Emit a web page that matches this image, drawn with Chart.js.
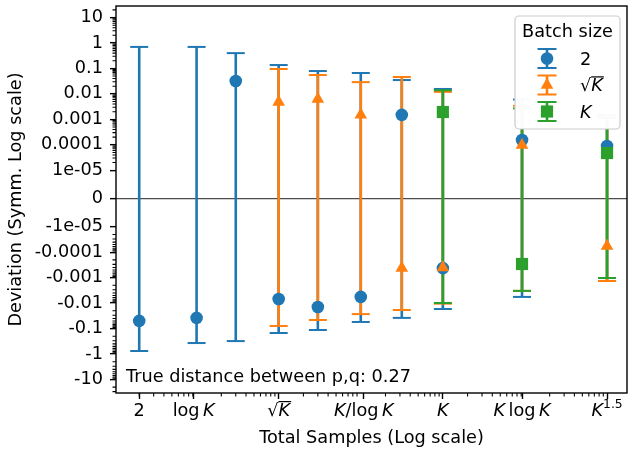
<!DOCTYPE html>
<html>
<head>
<meta charset="utf-8">
<script src="https://cdn.jsdelivr.net/npm/chart.js@4.4.1/dist/chart.umd.min.js"></script>
<style>
    html, body { margin: 0; padding: 0; background: #ffffff; }
    canvas { display: block; }
</style>
</head>
<body>
<canvas id="deviationChart" width="628" height="455"></canvas>
<script>
// Tick positions and labels
const xTickValues = [2, 9.21, 100, 1086, 10000, 92100, 1000000];
const xTickLabels = ['2', 'log K', '√K', 'K/log K', 'K', 'K log K', 'K^1.5'];
const yTickValues = [10, 1, 0.1, 0.01, 0.001, 0.0001, 1e-5, 0, -1e-5, -0.0001, -0.001, -0.01, -0.1, -1, -10];
const yTickLabels = ['10', '1', '0.1', '0.01', '0.001', '0.0001', '1e-05', '0', '-1e-05', '-0.0001', '-0.001', '-0.01', '-0.1', '-1', '-10'];

// Series: batch size 2
const batch2X = [2, 10, 30, 100, 300, 1000, 3160, 10000, 92100, 1000000];
const batch2Mean = [-0.05, -0.038, 0.032, -0.0069, -0.0142, -0.0057, 0.0015, -0.00042, 0.000154, 0.00009];
const batch2Low = [-0.76, -0.37, -0.31, -0.149, -0.114, -0.055, -0.038, -0.017, -0.0057, -0.00135];
const batch2High = [0.7, 0.7, 0.4, 0.136, 0.079, 0.066, 0.035, 0.0156, 0.006, 0.0015];

// Series: batch size sqrt(K)
const batchSqrtX = [100, 300, 1000, 3160, 10000, 92100, 1000000];
const batchSqrtMean = [0.0048, 0.0063, 0.0015, -0.00042, -0.0004, 0.000098, -0.000057];
const batchSqrtLow = [-0.079, -0.046, -0.027, -0.0186, -0.0105, -0.0033, -0.00135];
const batchSqrtHigh = [0.095, 0.055, 0.029, 0.046, 0.012, 0.0034, 0.0013];

// Series: batch size K
const batchKX = [10000, 92100, 1000000];
const batchKMean = [0.00194, -0.00029, 0.0000475];
const batchKLow = [-0.0099, -0.0033, -0.00103];
const batchKHigh = [0.0138, 0.0027, 0.00113];

const seriesLabels = ['2', '√K', 'K'];
const legendTitle = 'Batch size';
const distanceNote = 'True distance between p,q: 0.27';

const BLUE = '#1f77b4';
const ORANGE = '#ff7f0e';
const GREEN = '#2ca02c';
const FONT = '"DejaVu Sans", sans-serif';
const FS = 17.7;

// Symmetric log transform (linthresh 1e-5, linscale 1)
const LINTHRESH = 1e-5;
const LINADJ = 1 / (1 - 1 / 10);
function symlog(v) {
    const a = Math.abs(v);
    if (a <= LINTHRESH) return v / LINTHRESH * LINADJ;
    return Math.sign(v) * (LINADJ + Math.log10(a / LINTHRESH));
}
function symexp(t) {
    const a = Math.abs(t);
    if (a <= LINADJ) return t / LINADJ * LINTHRESH;
    return Math.sign(t) * LINTHRESH * Math.pow(10, a - LINADJ);
}

class SymlogScale extends Chart.LinearScale {
    static id = 'symlog';
    static defaults = {};
    buildTicks() {
        return yTickValues.map(v => ({ value: v }));
    }
    configure() {
        super.configure();
        this._tMin = symlog(this.min);
        this._tMax = symlog(this.max);
    }
    getPixelForValue(value) {
        if (value === null || value === undefined || isNaN(value)) return NaN;
        return this.getPixelForDecimal((symlog(value) - this._tMin) / (this._tMax - this._tMin));
    }
    getValueForPixel(pixel) {
        return symexp(this._tMin + this.getDecimalForPixel(pixel) * (this._tMax - this._tMin));
    }
}
Chart.register(SymlogScale);

// Error bar pieces as datasets
function errorLines(xs, lows, highs, color, order) {
    const data = [];
    xs.forEach((x, i) => {
        data.push({ x: x, y: lows[i] }, { x: x, y: highs[i] }, { x: x, y: null });
    });
    return { type: 'line', data: data, borderColor: color, borderWidth: 2.6, pointRadius: 0, spanGaps: false, fill: false, order: order };
}

function errorCaps(xs, lows, highs, color, order) {
    const data = [];
    xs.forEach((x, i) => {
        data.push({ x: x, y: lows[i] }, { x: x, y: highs[i] });
    });
    return { type: 'scatter', data: data, pointStyle: 'line', pointRadius: 9, pointHoverRadius: 9,
        pointBorderColor: color, pointBorderWidth: 2, order: order };
}

function markers(xs, means, color, style, radius, order) {
    return { type: 'scatter', data: xs.map((x, i) => ({ x: x, y: means[i] })), pointStyle: style,
        pointRadius: radius, pointHoverRadius: radius, pointBackgroundColor: color, pointBorderWidth: 0, order: order };
}

const markerStyles = [
    { style: 'circle', radius: 6.3, color: BLUE },
    { style: 'triangle', radius: 7.3, color: ORANGE },
    { style: 'rect', radius: 8.6, color: GREEN }
];

// Math-ish label drawing (italic K, radical, superscript)
function mathParts(label) {
    const parts = [];
    let sup = false;
    for (const ch of label) {
        if (ch === '^') { sup = true; continue; }
        if (ch === ' ') { parts.push({ gap: 3.5 }); continue; }
        parts.push({ t: ch, it: ch === 'K', sup: sup, rad: ch === '√' });
    }
    return parts;
}

function partFont(p) {
    const size = p.sup ? FS * 0.7 : FS;
    return (p.it ? 'italic ' : '') + size + 'px ' + FONT;
}

function drawMath(ctx, label, x, baseY, align) {
    const parts = mathParts(label);
    let total = 0;
    parts.forEach(p => {
        if (p.gap) { p.w = p.gap; } else { ctx.font = partFont(p); p.w = ctx.measureText(p.t).width; }
        total += p.w;
    });
    let cx = align === 'center' ? x - total / 2 : x;
    ctx.fillStyle = '#000';
    ctx.textAlign = 'left';
    ctx.textBaseline = 'alphabetic';
    let barFrom = null;
    let barY = 0;
    parts.forEach(p => {
        if (!p.gap) {
            ctx.font = partFont(p);
            ctx.fillText(p.t, cx, baseY - (p.sup ? FS * 0.45 : 0));
            if (p.rad) {
                const m = ctx.measureText(p.t);
                barY = baseY - m.actualBoundingBoxAscent + 0.6;
                barFrom = cx + m.actualBoundingBoxRight - 0.8;
            } else if (barFrom !== null) {
                ctx.strokeStyle = '#000';
                ctx.lineWidth = 1.2;
                ctx.beginPath();
                ctx.moveTo(barFrom, barY);
                ctx.lineTo(cx + p.w + 1, barY);
                ctx.stroke();
                barFrom = null;
            }
        }
        cx += p.w;
    });
}

// Frame, minor ticks, x labels, note and legend
const decorPlugin = {
    id: 'decor',
    afterDraw(chart) {
        const ctx = chart.ctx;
        const area = chart.chartArea;
        const xs = chart.scales.x;
        const ys = chart.scales.y;
        ctx.save();

        // minor ticks
        ctx.strokeStyle = '#000';
        ctx.lineWidth = 1.06;
        ctx.beginPath();
        for (let k = -5; k <= 1; k++) {
            for (let m = 2; m <= 9; m++) {
                const v = m * Math.pow(10, k);
                [v, -v].forEach(val => {
                    if (val > ys.max || val < ys.min) return;
                    const py = ys.getPixelForValue(val);
                    ctx.moveTo(area.left - 3.5, py);
                    ctx.lineTo(area.left, py);
                });
            }
        }
        for (let k = 0; k <= 6; k++) {
            for (let m = 2; m <= 9; m++) {
                const v = m * Math.pow(10, k);
                if (v < xs.min || v > xs.max) continue;
                const px = xs.getPixelForValue(v);
                ctx.moveTo(px, area.bottom);
                ctx.lineTo(px, area.bottom + 3.5);
            }
        }
        ctx.stroke();

        // axes frame
        ctx.lineWidth = 1.4;
        ctx.strokeRect(area.left, area.top, area.right - area.left, area.bottom - area.top);

        // x tick labels
        xTickValues.forEach((v, i) => {
            drawMath(ctx, xTickLabels[i], xs.getPixelForValue(v), 416, 'center');
        });

        // annotation
        ctx.font = FS + 'px ' + FONT;
        ctx.fillStyle = '#000';
        ctx.textAlign = 'left';
        ctx.textBaseline = 'alphabetic';
        ctx.fillText(distanceNote, 126, 382);

        // legend
        const box = { x: 515, y: 16, w: 105, h: 113 };
        ctx.beginPath();
        ctx.roundRect(box.x, box.y, box.w, box.h, 4);
        ctx.fillStyle = 'rgba(255,255,255,0.97)';
        ctx.fill();
        ctx.strokeStyle = '#cccccc';
        ctx.lineWidth = 1.2;
        ctx.stroke();

        ctx.font = FS + 'px ' + FONT;
        ctx.fillStyle = '#000';
        ctx.textAlign = 'center';
        ctx.fillText(legendTitle, box.x + box.w / 2, 36.5);

        const rowY = [58.5, 85, 111.5];
        seriesLabels.forEach((label, i) => {
            const cy = rowY[i];
            const ix = 547;
            const ms = markerStyles[i];
            ctx.strokeStyle = ms.color;
            ctx.fillStyle = ms.color;
            ctx.lineWidth = 2.6;
            ctx.beginPath();
            ctx.moveTo(ix, cy - 9.5);
            ctx.lineTo(ix, cy + 9.5);
            ctx.stroke();
            ctx.lineWidth = 2;
            ctx.beginPath();
            ctx.moveTo(ix - 9.5, cy - 9.5);
            ctx.lineTo(ix + 9.5, cy - 9.5);
            ctx.moveTo(ix - 9.5, cy + 9.5);
            ctx.lineTo(ix + 9.5, cy + 9.5);
            ctx.stroke();
            Chart.helpers.drawPoint(ctx, { pointStyle: ms.style, radius: ms.radius, rotation: 0, borderWidth: 0 }, ix, cy);
            drawMath(ctx, label, 580, cy + 6.3, 'left');
        });

        ctx.restore();
    }
};

const ctx = document.getElementById('deviationChart').getContext('2d');
new Chart(ctx, {
    type: 'scatter',
    data: {
        datasets: [
            errorLines(batch2X, batch2Low, batch2High, BLUE, 20),
            errorCaps(batch2X, batch2Low, batch2High, BLUE, 19),
            errorLines(batchSqrtX, batchSqrtLow, batchSqrtHigh, ORANGE, 18),
            errorCaps(batchSqrtX, batchSqrtLow, batchSqrtHigh, ORANGE, 17),
            errorLines(batchKX, batchKLow, batchKHigh, GREEN, 16),
            errorCaps(batchKX, batchKLow, batchKHigh, GREEN, 15),
            markers(batch2X, batch2Mean, BLUE, 'circle', 6.3, 12),
            markers(batchSqrtX, batchSqrtMean, ORANGE, 'triangle', 7.3, 11),
            markers(batchKX, batchKMean, GREEN, 'rect', 8.6, 10)
        ]
    },
    options: {
        responsive: false,
        animation: false,
        devicePixelRatio: 1,
        events: [],
        layout: { autoPadding: false, padding: { top: 6, right: 1, bottom: 0, left: 0 } },
        plugins: {
            legend: { display: false },
            tooltip: { enabled: false }
        },
        scales: {
            x: {
                type: 'logarithmic',
                position: 'bottom',
                min: 1.043,
                max: 1750000,
                afterBuildTicks: scale => { scale.ticks = xTickValues.map(v => ({ value: v })); },
                afterFit: scale => {
                    scale.height = 62;
                    scale.paddingLeft = 0;
                    scale.paddingRight = 0;
                },
                ticks: { display: false },
                grid: { drawOnChartArea: false, tickLength: 6, tickWidth: 1.4, tickColor: '#000' },
                border: { display: false },
                title: {
                    display: true,
                    text: 'Total Samples (Log scale)',
                    color: '#000',
                    font: { family: FONT, size: FS },
                    padding: { top: 0, bottom: 6 }
                }
            },
            y: {
                type: 'symlog',
                position: 'left',
                min: -34,
                max: 28.4,
                afterFit: scale => {
                    scale.width = 116;
                    scale.paddingTop = 0;
                    scale.paddingBottom = 0;
                },
                ticks: {
                    autoSkip: false,
                    color: '#000',
                    padding: 7,
                    font: { family: FONT, size: FS },
                    callback: (value, index) => yTickLabels[index]
                },
                grid: {
                    color: c => (c.tick && c.tick.value === 0) ? 'rgba(0,0,0,0.7)' : 'rgba(0,0,0,0)',
                    lineWidth: 1.3,
                    tickLength: 6,
                    tickWidth: 1.4,
                    tickColor: '#000'
                },
                border: { display: false },
                title: {
                    display: true,
                    text: 'Deviation (Symm. Log scale)',
                    color: '#000',
                    font: { family: FONT, size: FS },
                    padding: { top: 6, bottom: 0 }
                }
            }
        }
    },
    plugins: [decorPlugin]
});
</script>
</body>
</html>
